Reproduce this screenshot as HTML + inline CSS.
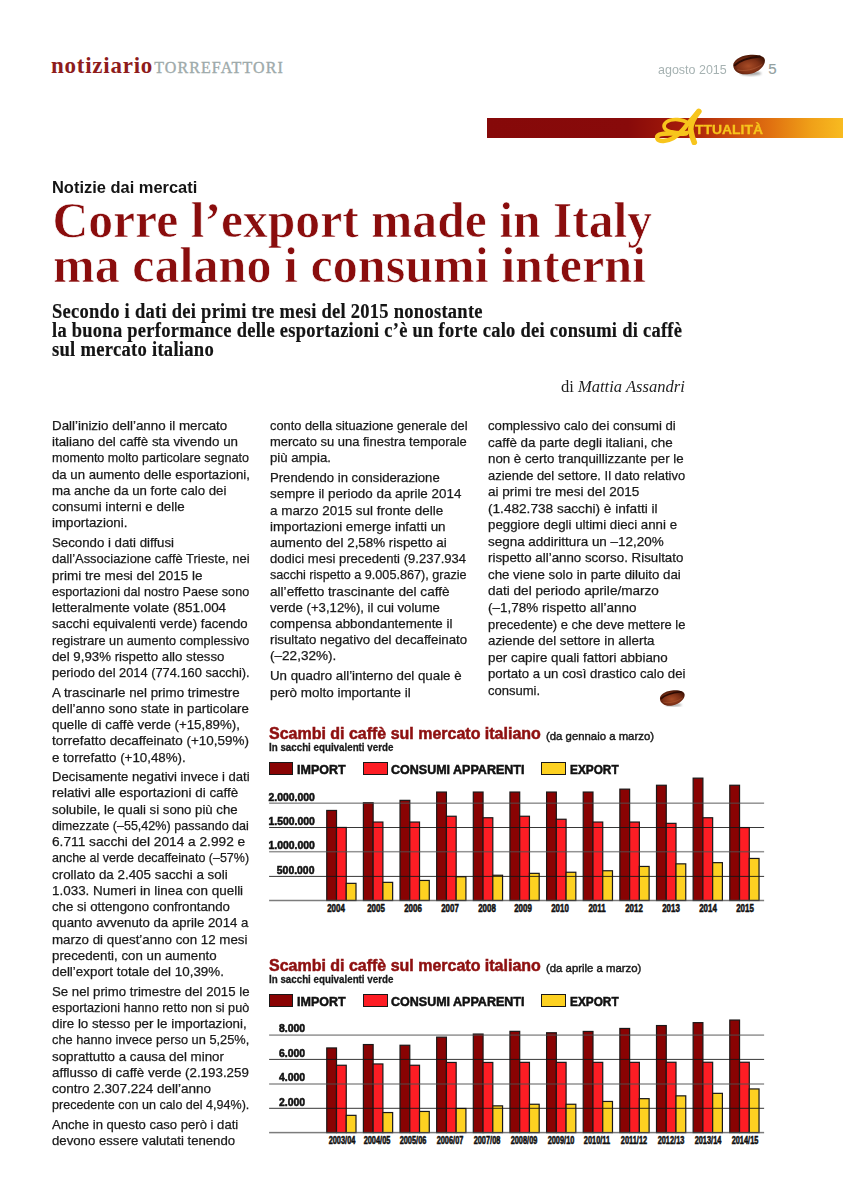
<!DOCTYPE html>
<html><head><meta charset="utf-8"><title>notiziario torrefattori</title>
<style>
html,body{margin:0;padding:0;background:#fff;}
#pg{position:relative;width:855px;height:1200px;overflow:hidden;background:#fff;}
.t{position:absolute;white-space:nowrap;line-height:1;}
.r{position:absolute;box-sizing:border-box;}
svg{position:absolute;}
</style></head><body><div id="pg">
<div class="t" style="left:51.00px;top:54.24px;font-size:23.00px;font-family:'Liberation Serif', serif;font-weight:bold;color:#8e1c1c;letter-spacing:0.75px;">notiziario</div>
<div class="t" style="left:154.20px;top:60.20px;font-size:16.00px;font-family:'Liberation Serif', serif;font-weight:normal;color:#9eaaaa;letter-spacing:1.1px;-webkit-text-stroke:0.35px #9eaaaa;">TORREFATTORI</div>
<div class="t" style="left:657.50px;top:63.09px;font-size:13.00px;font-family:'Liberation Sans', sans-serif;font-weight:normal;color:#a6b2b2;transform:scaleX(0.9600);transform-origin:0 0;">agosto 2015</div>
<div class="t" style="left:768.30px;top:61.20px;font-size:15.00px;font-family:'Liberation Sans', sans-serif;font-weight:normal;color:#93a0a0;-webkit-text-stroke:0.2px #93a0a0;">5</div>
<svg style="left:731.50px;top:52.80px" width="34.40" height="23.75" viewBox="140 95 420 290">
<defs><radialGradient id="gb1" cx="48%" cy="58%" r="58%"><stop offset="0" stop-color="#a84c26"/><stop offset="0.6" stop-color="#7e3016"/><stop offset="1" stop-color="#461606"/></radialGradient>
<filter id="fb1" x="-50%" y="-100%" width="200%" height="300%"><feGaussianBlur stdDeviation="14"/></filter></defs>
<ellipse cx="370" cy="345" rx="130" ry="24" fill="#555" opacity="0.55" filter="url(#fb1)"/>
<path d="M155 250 C 150 190, 230 130, 340 118 C 450 106, 540 128, 542 185 C 545 250, 470 330, 350 352 C 240 370, 160 322, 155 250 Z" fill="url(#gb1)"/>
<path d="M175 245 C 230 190, 320 155, 480 138" stroke="#2e0c04" stroke-width="26" fill="none" stroke-linecap="round"/>
<path d="M205 300 C 280 322, 420 302, 510 232" stroke="#d07848" stroke-width="12" fill="none" opacity="0.35"/>
</svg>
<div class="r" style="left:487px;top:118px;width:356px;height:20px;background:linear-gradient(90deg,#860909 0%,#880a0a 39.6%,#a81e0a 57%,#c8480c 68%,#e07010 79.5%,#f0a018 91%,#f8bb20 100%);"></div>
<svg style="left:652px;top:108px" width="52" height="37" viewBox="0 0 855 608">
<g fill="none" stroke="#f7c51c" stroke-linecap="round" stroke-linejoin="round">
<path d="M590 250 C 520 185, 330 165, 240 228 C 168 280, 190 362, 300 387 C 400 407, 500 412, 580 402" stroke-width="60"/>
<path d="M560 418 C 420 432, 230 402, 120 437 C 55 462, 75 548, 190 542 C 320 532, 430 452, 520 342 C 600 245, 700 120, 770 55" stroke-width="74"/>
<path d="M770 55 C 700 140, 622 250, 640 380 C 655 460, 680 530, 695 565" stroke-width="92"/>
</g></svg>
<div class="t" style="left:695.00px;top:122.87px;font-size:13.50px;font-family:'Liberation Sans', sans-serif;font-weight:bold;color:#f7c51c;transform:scaleX(1.0300);transform-origin:0 0;-webkit-text-stroke:0.3px #f7c51c;">TTUALITÀ</div>
<div class="t" style="left:52.00px;top:179.21px;font-size:16.40px;font-family:'Liberation Sans', sans-serif;font-weight:bold;color:#141414;transform:scaleX(1.0030);transform-origin:0 0;">Notizie dai mercati</div>
<div class="t" style="left:52.50px;top:196.26px;font-size:49.60px;font-family:'Liberation Serif', serif;font-weight:bold;color:#8a0d0d;-webkit-text-stroke:0.7px #fff;">Corre l’export made in Italy</div>
<div class="t" style="left:52.50px;top:240.86px;font-size:49.60px;font-family:'Liberation Serif', serif;font-weight:bold;color:#8a0d0d;transform:scaleX(1.0103);transform-origin:0 0;-webkit-text-stroke:0.7px #fff;">ma calano i consumi interni</div>
<div class="t" style="left:52.20px;top:300.50px;font-size:20.30px;font-family:'Liberation Serif', serif;font-weight:bold;color:#141414;transform:scaleX(0.9120);transform-origin:0 0;letter-spacing:0.3px;-webkit-text-stroke:0.2px #141414;">Secondo i dati dei primi tre mesi del 2015 nonostante</div>
<div class="t" style="left:52.20px;top:319.60px;font-size:20.30px;font-family:'Liberation Serif', serif;font-weight:bold;color:#141414;transform:scaleX(0.9100);transform-origin:0 0;letter-spacing:0.3px;-webkit-text-stroke:0.2px #141414;">la buona performance delle esportazioni c’è un forte calo dei consumi di caffè</div>
<div class="t" style="left:52.20px;top:338.90px;font-size:20.30px;font-family:'Liberation Serif', serif;font-weight:bold;color:#141414;transform:scaleX(0.9160);transform-origin:0 0;letter-spacing:0.3px;-webkit-text-stroke:0.2px #141414;">sul mercato italiano</div>
<div class="t" style="right:169.80px;top:379.30px;font-size:16.00px;font-family:'Liberation Serif', serif;font-weight:normal;color:#1e1e1e;transform:scaleX(1.0340);transform-origin:100% 0;">di <i>Mattia Assandri</i></div>
<div class="t" style="left:52.30px;top:418.99px;font-size:13.00px;font-family:'Liberation Sans', sans-serif;font-weight:normal;color:#1a1a1a;transform:scaleX(1.0277);transform-origin:0 0;-webkit-text-stroke:0.25px #1a1a1a;">Dall’inizio dell’anno il mercato</div>
<div class="t" style="left:52.30px;top:435.24px;font-size:13.00px;font-family:'Liberation Sans', sans-serif;font-weight:normal;color:#1a1a1a;transform:scaleX(1.0266);transform-origin:0 0;-webkit-text-stroke:0.25px #1a1a1a;">italiano del caffè sta vivendo un</div>
<div class="t" style="left:52.30px;top:451.49px;font-size:13.00px;font-family:'Liberation Sans', sans-serif;font-weight:normal;color:#1a1a1a;transform:scaleX(0.9661);transform-origin:0 0;-webkit-text-stroke:0.25px #1a1a1a;">momento molto particolare segnato</div>
<div class="t" style="left:52.30px;top:467.74px;font-size:13.00px;font-family:'Liberation Sans', sans-serif;font-weight:normal;color:#1a1a1a;transform:scaleX(1.0145);transform-origin:0 0;-webkit-text-stroke:0.25px #1a1a1a;">da un aumento delle esportazioni,</div>
<div class="t" style="left:52.30px;top:483.99px;font-size:13.00px;font-family:'Liberation Sans', sans-serif;font-weight:normal;color:#1a1a1a;transform:scaleX(1.0182);transform-origin:0 0;-webkit-text-stroke:0.25px #1a1a1a;">ma anche da un forte calo dei</div>
<div class="t" style="left:52.30px;top:500.24px;font-size:13.00px;font-family:'Liberation Sans', sans-serif;font-weight:normal;color:#1a1a1a;transform:scaleX(1.0249);transform-origin:0 0;-webkit-text-stroke:0.25px #1a1a1a;">consumi interni e delle</div>
<div class="t" style="left:52.30px;top:516.49px;font-size:13.00px;font-family:'Liberation Sans', sans-serif;font-weight:normal;color:#1a1a1a;transform:scaleX(1.0234);transform-origin:0 0;-webkit-text-stroke:0.25px #1a1a1a;">importazioni.</div>
<div class="t" style="left:52.30px;top:536.04px;font-size:13.00px;font-family:'Liberation Sans', sans-serif;font-weight:normal;color:#1a1a1a;transform:scaleX(1.0192);transform-origin:0 0;-webkit-text-stroke:0.25px #1a1a1a;">Secondo i dati diffusi</div>
<div class="t" style="left:52.30px;top:552.29px;font-size:13.00px;font-family:'Liberation Sans', sans-serif;font-weight:normal;color:#1a1a1a;transform:scaleX(0.9954);transform-origin:0 0;-webkit-text-stroke:0.25px #1a1a1a;">dall’Associazione caffè Trieste, nei</div>
<div class="t" style="left:52.30px;top:568.54px;font-size:13.00px;font-family:'Liberation Sans', sans-serif;font-weight:normal;color:#1a1a1a;transform:scaleX(1.0366);transform-origin:0 0;-webkit-text-stroke:0.25px #1a1a1a;">primi tre mesi del 2015 le</div>
<div class="t" style="left:52.30px;top:584.79px;font-size:13.00px;font-family:'Liberation Sans', sans-serif;font-weight:normal;color:#1a1a1a;transform:scaleX(0.9709);transform-origin:0 0;-webkit-text-stroke:0.25px #1a1a1a;">esportazioni dal nostro Paese sono</div>
<div class="t" style="left:52.30px;top:601.04px;font-size:13.00px;font-family:'Liberation Sans', sans-serif;font-weight:normal;color:#1a1a1a;transform:scaleX(1.0338);transform-origin:0 0;-webkit-text-stroke:0.25px #1a1a1a;">letteralmente volate (851.004</div>
<div class="t" style="left:52.30px;top:617.29px;font-size:13.00px;font-family:'Liberation Sans', sans-serif;font-weight:normal;color:#1a1a1a;transform:scaleX(1.0140);transform-origin:0 0;-webkit-text-stroke:0.25px #1a1a1a;">sacchi equivalenti verde) facendo</div>
<div class="t" style="left:52.30px;top:633.54px;font-size:13.00px;font-family:'Liberation Sans', sans-serif;font-weight:normal;color:#1a1a1a;transform:scaleX(0.9757);transform-origin:0 0;-webkit-text-stroke:0.25px #1a1a1a;">registrare un aumento complessivo</div>
<div class="t" style="left:52.30px;top:649.79px;font-size:13.00px;font-family:'Liberation Sans', sans-serif;font-weight:normal;color:#1a1a1a;transform:scaleX(1.0196);transform-origin:0 0;-webkit-text-stroke:0.25px #1a1a1a;">del 9,93% rispetto allo stesso</div>
<div class="t" style="left:52.30px;top:666.04px;font-size:13.00px;font-family:'Liberation Sans', sans-serif;font-weight:normal;color:#1a1a1a;transform:scaleX(0.9870);transform-origin:0 0;-webkit-text-stroke:0.25px #1a1a1a;">periodo del 2014 (774.160 sacchi).</div>
<div class="t" style="left:52.30px;top:685.59px;font-size:13.00px;font-family:'Liberation Sans', sans-serif;font-weight:normal;color:#1a1a1a;transform:scaleX(1.0268);transform-origin:0 0;-webkit-text-stroke:0.25px #1a1a1a;">A trascinarle nel primo trimestre</div>
<div class="t" style="left:52.30px;top:701.84px;font-size:13.00px;font-family:'Liberation Sans', sans-serif;font-weight:normal;color:#1a1a1a;transform:scaleX(1.0160);transform-origin:0 0;-webkit-text-stroke:0.25px #1a1a1a;">dell’anno sono state in particolare</div>
<div class="t" style="left:52.30px;top:718.09px;font-size:13.00px;font-family:'Liberation Sans', sans-serif;font-weight:normal;color:#1a1a1a;transform:scaleX(1.0230);transform-origin:0 0;-webkit-text-stroke:0.25px #1a1a1a;">quelle di caffè verde (+15,89%),</div>
<div class="t" style="left:52.30px;top:734.34px;font-size:13.00px;font-family:'Liberation Sans', sans-serif;font-weight:normal;color:#1a1a1a;transform:scaleX(1.0358);transform-origin:0 0;-webkit-text-stroke:0.25px #1a1a1a;">torrefatto decaffeinato (+10,59%)</div>
<div class="t" style="left:52.30px;top:750.59px;font-size:13.00px;font-family:'Liberation Sans', sans-serif;font-weight:normal;color:#1a1a1a;transform:scaleX(1.0254);transform-origin:0 0;-webkit-text-stroke:0.25px #1a1a1a;">e torrefatto (+10,48%).</div>
<div class="t" style="left:52.30px;top:770.14px;font-size:13.00px;font-family:'Liberation Sans', sans-serif;font-weight:normal;color:#1a1a1a;transform:scaleX(1.0056);transform-origin:0 0;-webkit-text-stroke:0.25px #1a1a1a;">Decisamente negativi invece i dati</div>
<div class="t" style="left:52.30px;top:786.39px;font-size:13.00px;font-family:'Liberation Sans', sans-serif;font-weight:normal;color:#1a1a1a;transform:scaleX(1.0323);transform-origin:0 0;-webkit-text-stroke:0.25px #1a1a1a;">relativi alle esportazioni di caffè</div>
<div class="t" style="left:52.30px;top:802.64px;font-size:13.00px;font-family:'Liberation Sans', sans-serif;font-weight:normal;color:#1a1a1a;transform:scaleX(1.0153);transform-origin:0 0;-webkit-text-stroke:0.25px #1a1a1a;">solubile, le quali si sono più che</div>
<div class="t" style="left:52.30px;top:818.89px;font-size:13.00px;font-family:'Liberation Sans', sans-serif;font-weight:normal;color:#1a1a1a;transform:scaleX(0.9661);transform-origin:0 0;-webkit-text-stroke:0.25px #1a1a1a;">dimezzate (–55,42%) passando dai</div>
<div class="t" style="left:52.30px;top:835.14px;font-size:13.00px;font-family:'Liberation Sans', sans-serif;font-weight:normal;color:#1a1a1a;transform:scaleX(1.0536);transform-origin:0 0;-webkit-text-stroke:0.25px #1a1a1a;">6.711 sacchi del 2014 a 2.992 e</div>
<div class="t" style="left:52.30px;top:851.39px;font-size:13.00px;font-family:'Liberation Sans', sans-serif;font-weight:normal;color:#1a1a1a;transform:scaleX(0.9614);transform-origin:0 0;-webkit-text-stroke:0.25px #1a1a1a;">anche al verde decaffeinato (–57%)</div>
<div class="t" style="left:52.30px;top:867.64px;font-size:13.00px;font-family:'Liberation Sans', sans-serif;font-weight:normal;color:#1a1a1a;transform:scaleX(1.0301);transform-origin:0 0;-webkit-text-stroke:0.25px #1a1a1a;">crollato da 2.405 sacchi a soli</div>
<div class="t" style="left:52.30px;top:883.89px;font-size:13.00px;font-family:'Liberation Sans', sans-serif;font-weight:normal;color:#1a1a1a;transform:scaleX(1.0330);transform-origin:0 0;-webkit-text-stroke:0.25px #1a1a1a;">1.033. Numeri in linea con quelli</div>
<div class="t" style="left:52.30px;top:900.14px;font-size:13.00px;font-family:'Liberation Sans', sans-serif;font-weight:normal;color:#1a1a1a;transform:scaleX(1.0172);transform-origin:0 0;-webkit-text-stroke:0.25px #1a1a1a;">che si ottengono confrontando</div>
<div class="t" style="left:52.30px;top:916.39px;font-size:13.00px;font-family:'Liberation Sans', sans-serif;font-weight:normal;color:#1a1a1a;transform:scaleX(1.0176);transform-origin:0 0;-webkit-text-stroke:0.25px #1a1a1a;">quanto avvenuto da aprile 2014 a</div>
<div class="t" style="left:52.30px;top:932.64px;font-size:13.00px;font-family:'Liberation Sans', sans-serif;font-weight:normal;color:#1a1a1a;transform:scaleX(1.0246);transform-origin:0 0;-webkit-text-stroke:0.25px #1a1a1a;">marzo di quest’anno con 12 mesi</div>
<div class="t" style="left:52.30px;top:948.89px;font-size:13.00px;font-family:'Liberation Sans', sans-serif;font-weight:normal;color:#1a1a1a;transform:scaleX(1.0218);transform-origin:0 0;-webkit-text-stroke:0.25px #1a1a1a;">precedenti, con un aumento</div>
<div class="t" style="left:52.30px;top:965.14px;font-size:13.00px;font-family:'Liberation Sans', sans-serif;font-weight:normal;color:#1a1a1a;transform:scaleX(1.0296);transform-origin:0 0;-webkit-text-stroke:0.25px #1a1a1a;">dell’export totale del 10,39%.</div>
<div class="t" style="left:52.30px;top:984.69px;font-size:13.00px;font-family:'Liberation Sans', sans-serif;font-weight:normal;color:#1a1a1a;transform:scaleX(1.0160);transform-origin:0 0;-webkit-text-stroke:0.25px #1a1a1a;">Se nel primo trimestre del 2015 le</div>
<div class="t" style="left:52.30px;top:1000.94px;font-size:13.00px;font-family:'Liberation Sans', sans-serif;font-weight:normal;color:#1a1a1a;transform:scaleX(0.9709);transform-origin:0 0;-webkit-text-stroke:0.25px #1a1a1a;">esportazioni hanno retto non si può</div>
<div class="t" style="left:52.30px;top:1017.19px;font-size:13.00px;font-family:'Liberation Sans', sans-serif;font-weight:normal;color:#1a1a1a;transform:scaleX(1.0244);transform-origin:0 0;-webkit-text-stroke:0.25px #1a1a1a;">dire lo stesso per le importazioni,</div>
<div class="t" style="left:52.30px;top:1033.44px;font-size:13.00px;font-family:'Liberation Sans', sans-serif;font-weight:normal;color:#1a1a1a;transform:scaleX(0.9855);transform-origin:0 0;-webkit-text-stroke:0.25px #1a1a1a;">che hanno invece perso un 5,25%,</div>
<div class="t" style="left:52.30px;top:1049.69px;font-size:13.00px;font-family:'Liberation Sans', sans-serif;font-weight:normal;color:#1a1a1a;transform:scaleX(1.0256);transform-origin:0 0;-webkit-text-stroke:0.25px #1a1a1a;">soprattutto a causa del minor</div>
<div class="t" style="left:52.30px;top:1065.94px;font-size:13.00px;font-family:'Liberation Sans', sans-serif;font-weight:normal;color:#1a1a1a;transform:scaleX(1.0266);transform-origin:0 0;-webkit-text-stroke:0.25px #1a1a1a;">afflusso di caffè verde (2.193.259</div>
<div class="t" style="left:52.30px;top:1082.19px;font-size:13.00px;font-family:'Liberation Sans', sans-serif;font-weight:normal;color:#1a1a1a;transform:scaleX(1.0380);transform-origin:0 0;-webkit-text-stroke:0.25px #1a1a1a;">contro 2.307.224 dell’anno</div>
<div class="t" style="left:52.30px;top:1098.44px;font-size:13.00px;font-family:'Liberation Sans', sans-serif;font-weight:normal;color:#1a1a1a;transform:scaleX(0.9647);transform-origin:0 0;-webkit-text-stroke:0.25px #1a1a1a;">precedente con un calo del 4,94%).</div>
<div class="t" style="left:52.30px;top:1117.99px;font-size:13.00px;font-family:'Liberation Sans', sans-serif;font-weight:normal;color:#1a1a1a;transform:scaleX(1.0065);transform-origin:0 0;-webkit-text-stroke:0.25px #1a1a1a;">Anche in questo caso però i dati</div>
<div class="t" style="left:52.30px;top:1134.24px;font-size:13.00px;font-family:'Liberation Sans', sans-serif;font-weight:normal;color:#1a1a1a;transform:scaleX(1.0133);transform-origin:0 0;-webkit-text-stroke:0.25px #1a1a1a;">devono essere valutati tenendo</div>
<div class="t" style="left:269.60px;top:418.99px;font-size:13.00px;font-family:'Liberation Sans', sans-serif;font-weight:normal;color:#1a1a1a;transform:scaleX(0.9865);transform-origin:0 0;-webkit-text-stroke:0.25px #1a1a1a;">conto della situazione generale del</div>
<div class="t" style="left:269.60px;top:435.19px;font-size:13.00px;font-family:'Liberation Sans', sans-serif;font-weight:normal;color:#1a1a1a;transform:scaleX(0.9975);transform-origin:0 0;-webkit-text-stroke:0.25px #1a1a1a;">mercato su una finestra temporale</div>
<div class="t" style="left:269.60px;top:451.39px;font-size:13.00px;font-family:'Liberation Sans', sans-serif;font-weight:normal;color:#1a1a1a;transform:scaleX(1.0152);transform-origin:0 0;-webkit-text-stroke:0.25px #1a1a1a;">più ampia.</div>
<div class="t" style="left:269.60px;top:471.29px;font-size:13.00px;font-family:'Liberation Sans', sans-serif;font-weight:normal;color:#1a1a1a;transform:scaleX(1.0077);transform-origin:0 0;-webkit-text-stroke:0.25px #1a1a1a;">Prendendo in considerazione</div>
<div class="t" style="left:269.60px;top:487.49px;font-size:13.00px;font-family:'Liberation Sans', sans-serif;font-weight:normal;color:#1a1a1a;transform:scaleX(1.0302);transform-origin:0 0;-webkit-text-stroke:0.25px #1a1a1a;">sempre il periodo da aprile 2014</div>
<div class="t" style="left:269.60px;top:503.69px;font-size:13.00px;font-family:'Liberation Sans', sans-serif;font-weight:normal;color:#1a1a1a;transform:scaleX(1.0329);transform-origin:0 0;-webkit-text-stroke:0.25px #1a1a1a;">a marzo 2015 sul fronte delle</div>
<div class="t" style="left:269.60px;top:519.89px;font-size:13.00px;font-family:'Liberation Sans', sans-serif;font-weight:normal;color:#1a1a1a;transform:scaleX(1.0293);transform-origin:0 0;-webkit-text-stroke:0.25px #1a1a1a;">importazioni emerge infatti un</div>
<div class="t" style="left:269.60px;top:536.09px;font-size:13.00px;font-family:'Liberation Sans', sans-serif;font-weight:normal;color:#1a1a1a;transform:scaleX(1.0274);transform-origin:0 0;-webkit-text-stroke:0.25px #1a1a1a;">aumento del 2,58% rispetto ai</div>
<div class="t" style="left:269.60px;top:552.29px;font-size:13.00px;font-family:'Liberation Sans', sans-serif;font-weight:normal;color:#1a1a1a;transform:scaleX(1.0051);transform-origin:0 0;-webkit-text-stroke:0.25px #1a1a1a;">dodici mesi precedenti (9.237.934</div>
<div class="t" style="left:269.60px;top:568.49px;font-size:13.00px;font-family:'Liberation Sans', sans-serif;font-weight:normal;color:#1a1a1a;transform:scaleX(0.9718);transform-origin:0 0;-webkit-text-stroke:0.25px #1a1a1a;">sacchi rispetto a 9.005.867), grazie</div>
<div class="t" style="left:269.60px;top:584.69px;font-size:13.00px;font-family:'Liberation Sans', sans-serif;font-weight:normal;color:#1a1a1a;transform:scaleX(1.0473);transform-origin:0 0;-webkit-text-stroke:0.25px #1a1a1a;">all’effetto trascinante del caffè</div>
<div class="t" style="left:269.60px;top:600.89px;font-size:13.00px;font-family:'Liberation Sans', sans-serif;font-weight:normal;color:#1a1a1a;transform:scaleX(1.0114);transform-origin:0 0;-webkit-text-stroke:0.25px #1a1a1a;">verde (+3,12%), il cui volume</div>
<div class="t" style="left:269.60px;top:617.09px;font-size:13.00px;font-family:'Liberation Sans', sans-serif;font-weight:normal;color:#1a1a1a;transform:scaleX(1.0259);transform-origin:0 0;-webkit-text-stroke:0.25px #1a1a1a;">compensa abbondantemente il</div>
<div class="t" style="left:269.60px;top:633.29px;font-size:13.00px;font-family:'Liberation Sans', sans-serif;font-weight:normal;color:#1a1a1a;transform:scaleX(1.0191);transform-origin:0 0;-webkit-text-stroke:0.25px #1a1a1a;">risultato negativo del decaffeinato</div>
<div class="t" style="left:269.60px;top:649.49px;font-size:13.00px;font-family:'Liberation Sans', sans-serif;font-weight:normal;color:#1a1a1a;transform:scaleX(1.0433);transform-origin:0 0;-webkit-text-stroke:0.25px #1a1a1a;">(–22,32%).</div>
<div class="t" style="left:269.60px;top:669.39px;font-size:13.00px;font-family:'Liberation Sans', sans-serif;font-weight:normal;color:#1a1a1a;transform:scaleX(1.0236);transform-origin:0 0;-webkit-text-stroke:0.25px #1a1a1a;">Un quadro all’interno del quale è</div>
<div class="t" style="left:269.60px;top:685.59px;font-size:13.00px;font-family:'Liberation Sans', sans-serif;font-weight:normal;color:#1a1a1a;transform:scaleX(1.0362);transform-origin:0 0;-webkit-text-stroke:0.25px #1a1a1a;">però molto importante il</div>
<div class="t" style="left:487.60px;top:418.99px;font-size:13.00px;font-family:'Liberation Sans', sans-serif;font-weight:normal;color:#1a1a1a;transform:scaleX(1.0113);transform-origin:0 0;-webkit-text-stroke:0.25px #1a1a1a;">complessivo calo dei consumi di</div>
<div class="t" style="left:487.60px;top:435.54px;font-size:13.00px;font-family:'Liberation Sans', sans-serif;font-weight:normal;color:#1a1a1a;transform:scaleX(1.0320);transform-origin:0 0;-webkit-text-stroke:0.25px #1a1a1a;">caffè da parte degli italiani, che</div>
<div class="t" style="left:487.60px;top:452.09px;font-size:13.00px;font-family:'Liberation Sans', sans-serif;font-weight:normal;color:#1a1a1a;transform:scaleX(1.0214);transform-origin:0 0;-webkit-text-stroke:0.25px #1a1a1a;">non è certo tranquillizzante per le</div>
<div class="t" style="left:487.60px;top:468.64px;font-size:13.00px;font-family:'Liberation Sans', sans-serif;font-weight:normal;color:#1a1a1a;transform:scaleX(0.9954);transform-origin:0 0;-webkit-text-stroke:0.25px #1a1a1a;">aziende del settore. Il dato relativo</div>
<div class="t" style="left:487.60px;top:485.19px;font-size:13.00px;font-family:'Liberation Sans', sans-serif;font-weight:normal;color:#1a1a1a;transform:scaleX(1.0416);transform-origin:0 0;-webkit-text-stroke:0.25px #1a1a1a;">ai primi tre mesi del 2015</div>
<div class="t" style="left:487.60px;top:501.74px;font-size:13.00px;font-family:'Liberation Sans', sans-serif;font-weight:normal;color:#1a1a1a;transform:scaleX(1.0477);transform-origin:0 0;-webkit-text-stroke:0.25px #1a1a1a;">(1.482.738 sacchi) è infatti il</div>
<div class="t" style="left:487.60px;top:518.29px;font-size:13.00px;font-family:'Liberation Sans', sans-serif;font-weight:normal;color:#1a1a1a;transform:scaleX(1.0217);transform-origin:0 0;-webkit-text-stroke:0.25px #1a1a1a;">peggiore degli ultimi dieci anni e</div>
<div class="t" style="left:487.60px;top:534.84px;font-size:13.00px;font-family:'Liberation Sans', sans-serif;font-weight:normal;color:#1a1a1a;transform:scaleX(1.0342);transform-origin:0 0;-webkit-text-stroke:0.25px #1a1a1a;">segna addirittura un –12,20%</div>
<div class="t" style="left:487.60px;top:551.39px;font-size:13.00px;font-family:'Liberation Sans', sans-serif;font-weight:normal;color:#1a1a1a;transform:scaleX(1.0242);transform-origin:0 0;-webkit-text-stroke:0.25px #1a1a1a;">rispetto all’anno scorso. Risultato</div>
<div class="t" style="left:487.60px;top:567.94px;font-size:13.00px;font-family:'Liberation Sans', sans-serif;font-weight:normal;color:#1a1a1a;transform:scaleX(1.0223);transform-origin:0 0;-webkit-text-stroke:0.25px #1a1a1a;">che viene solo in parte diluito dai</div>
<div class="t" style="left:487.60px;top:584.49px;font-size:13.00px;font-family:'Liberation Sans', sans-serif;font-weight:normal;color:#1a1a1a;transform:scaleX(1.0410);transform-origin:0 0;-webkit-text-stroke:0.25px #1a1a1a;">dati del periodo aprile/marzo</div>
<div class="t" style="left:487.60px;top:601.04px;font-size:13.00px;font-family:'Liberation Sans', sans-serif;font-weight:normal;color:#1a1a1a;transform:scaleX(1.0372);transform-origin:0 0;-webkit-text-stroke:0.25px #1a1a1a;">(–1,78% rispetto all’anno</div>
<div class="t" style="left:487.60px;top:617.59px;font-size:13.00px;font-family:'Liberation Sans', sans-serif;font-weight:normal;color:#1a1a1a;transform:scaleX(0.9970);transform-origin:0 0;-webkit-text-stroke:0.25px #1a1a1a;">precedente) e che deve mettere le</div>
<div class="t" style="left:487.60px;top:634.14px;font-size:13.00px;font-family:'Liberation Sans', sans-serif;font-weight:normal;color:#1a1a1a;transform:scaleX(1.0240);transform-origin:0 0;-webkit-text-stroke:0.25px #1a1a1a;">aziende del settore in allerta</div>
<div class="t" style="left:487.60px;top:650.69px;font-size:13.00px;font-family:'Liberation Sans', sans-serif;font-weight:normal;color:#1a1a1a;transform:scaleX(1.0275);transform-origin:0 0;-webkit-text-stroke:0.25px #1a1a1a;">per capire quali fattori abbiano</div>
<div class="t" style="left:487.60px;top:667.24px;font-size:13.00px;font-family:'Liberation Sans', sans-serif;font-weight:normal;color:#1a1a1a;transform:scaleX(1.0155);transform-origin:0 0;-webkit-text-stroke:0.25px #1a1a1a;">portato a un così drastico calo dei</div>
<div class="t" style="left:487.60px;top:683.79px;font-size:13.00px;font-family:'Liberation Sans', sans-serif;font-weight:normal;color:#1a1a1a;transform:scaleX(1.0019);transform-origin:0 0;-webkit-text-stroke:0.25px #1a1a1a;">consumi.</div>
<svg style="left:658.90px;top:688.80px" width="26.83" height="18.53" viewBox="140 95 420 290">
<defs><radialGradient id="gb2" cx="48%" cy="58%" r="58%"><stop offset="0" stop-color="#a84c26"/><stop offset="0.6" stop-color="#7e3016"/><stop offset="1" stop-color="#461606"/></radialGradient>
<filter id="fb2" x="-50%" y="-100%" width="200%" height="300%"><feGaussianBlur stdDeviation="14"/></filter></defs>
<ellipse cx="370" cy="345" rx="130" ry="24" fill="#555" opacity="0.55" filter="url(#fb2)"/>
<path d="M155 250 C 150 190, 230 130, 340 118 C 450 106, 540 128, 542 185 C 545 250, 470 330, 350 352 C 240 370, 160 322, 155 250 Z" fill="url(#gb2)"/>
<path d="M175 245 C 230 190, 320 155, 480 138" stroke="#2e0c04" stroke-width="26" fill="none" stroke-linecap="round"/>
<path d="M205 300 C 280 322, 420 302, 510 232" stroke="#d07848" stroke-width="12" fill="none" opacity="0.35"/>
</svg>
<div class="t" style="left:269.10px;top:726.49px;font-size:15.60px;font-family:'Liberation Sans', sans-serif;font-weight:bold;color:#8e1010;transform:scaleX(1.0250);transform-origin:0 0;-webkit-text-stroke:0.5px #8e1010;">Scambi di caffè sul mercato italiano</div>
<div class="t" style="left:546.30px;top:729.98px;font-size:11.60px;font-family:'Liberation Sans', sans-serif;font-weight:normal;color:#1a1a1a;transform:scaleX(0.9800);transform-origin:0 0;-webkit-text-stroke:0.45px #1a1a1a;">(da gennaio a marzo)</div>
<div class="t" style="left:269.10px;top:742.16px;font-size:10.80px;font-family:'Liberation Sans', sans-serif;font-weight:bold;color:#1a1a1a;transform:scaleX(0.9050);transform-origin:0 0;-webkit-text-stroke:0.3px #1a1a1a;">In sacchi equivalenti verde</div>
<div class="r" style="left:269.10px;top:762.20px;width:24.00px;height:12.80px;background:#890303;border:1px solid #1a1818;"></div>
<div class="t" style="left:297.20px;top:762.99px;font-size:13.60px;font-family:'Liberation Sans', sans-serif;font-weight:bold;color:#111;transform:scaleX(0.9200);transform-origin:0 0;-webkit-text-stroke:0.55px #111;">IMPORT</div>
<div class="r" style="left:363.20px;top:762.20px;width:24.40px;height:12.80px;background:#fd1d24;border:1px solid #1a1818;"></div>
<div class="t" style="left:391.30px;top:762.99px;font-size:13.60px;font-family:'Liberation Sans', sans-serif;font-weight:bold;color:#111;transform:scaleX(0.9200);transform-origin:0 0;-webkit-text-stroke:0.55px #111;">CONSUMI APPARENTI</div>
<div class="r" style="left:541.40px;top:762.20px;width:24.30px;height:12.80px;background:#fdd121;border:1px solid #1a1818;"></div>
<div class="t" style="left:570.00px;top:762.99px;font-size:13.60px;font-family:'Liberation Sans', sans-serif;font-weight:bold;color:#111;transform:scaleX(0.8700);transform-origin:0 0;-webkit-text-stroke:0.55px #111;">EXPORT</div>
<div class="t" style="right:540.30px;top:791.52px;font-size:11.20px;font-family:'Liberation Sans', sans-serif;font-weight:bold;color:#111;transform:scaleX(0.9300);transform-origin:100% 0;-webkit-text-stroke:0.55px #111;">2.000.000</div>
<div class="t" style="right:540.30px;top:815.82px;font-size:11.20px;font-family:'Liberation Sans', sans-serif;font-weight:bold;color:#111;transform:scaleX(0.9300);transform-origin:100% 0;-webkit-text-stroke:0.55px #111;">1.500.000</div>
<div class="t" style="right:540.30px;top:840.02px;font-size:11.20px;font-family:'Liberation Sans', sans-serif;font-weight:bold;color:#111;transform:scaleX(0.9300);transform-origin:100% 0;-webkit-text-stroke:0.55px #111;">1.000.000</div>
<div class="t" style="right:540.30px;top:864.72px;font-size:11.20px;font-family:'Liberation Sans', sans-serif;font-weight:bold;color:#111;transform:scaleX(0.9300);transform-origin:100% 0;-webkit-text-stroke:0.55px #111;">500.000</div>
<svg style="left:0;top:0" width="855" height="1200" viewBox="0 0 855 1200">
<rect x="326.75" y="810.45" width="9.75" height="90.05" fill="#890303" stroke="#1a1818" stroke-width="1.2"/>
<rect x="336.50" y="827.45" width="9.75" height="73.05" fill="#fd1d24" stroke="#1a1818" stroke-width="1.2"/>
<rect x="346.25" y="883.35" width="9.75" height="17.15" fill="#fdd121" stroke="#1a1818" stroke-width="1.2"/>
<rect x="363.39" y="802.75" width="9.75" height="97.75" fill="#890303" stroke="#1a1818" stroke-width="1.2"/>
<rect x="373.14" y="822.05" width="9.75" height="78.45" fill="#fd1d24" stroke="#1a1818" stroke-width="1.2"/>
<rect x="382.89" y="882.35" width="9.75" height="18.15" fill="#fdd121" stroke="#1a1818" stroke-width="1.2"/>
<rect x="400.03" y="800.35" width="9.75" height="100.15" fill="#890303" stroke="#1a1818" stroke-width="1.2"/>
<rect x="409.78" y="822.05" width="9.75" height="78.45" fill="#fd1d24" stroke="#1a1818" stroke-width="1.2"/>
<rect x="419.53" y="880.45" width="9.75" height="20.05" fill="#fdd121" stroke="#1a1818" stroke-width="1.2"/>
<rect x="436.67" y="792.05" width="9.75" height="108.45" fill="#890303" stroke="#1a1818" stroke-width="1.2"/>
<rect x="446.42" y="816.25" width="9.75" height="84.25" fill="#fd1d24" stroke="#1a1818" stroke-width="1.2"/>
<rect x="456.17" y="876.75" width="9.75" height="23.75" fill="#fdd121" stroke="#1a1818" stroke-width="1.2"/>
<rect x="473.31" y="792.05" width="9.75" height="108.45" fill="#890303" stroke="#1a1818" stroke-width="1.2"/>
<rect x="483.06" y="817.75" width="9.75" height="82.75" fill="#fd1d24" stroke="#1a1818" stroke-width="1.2"/>
<rect x="492.81" y="875.25" width="9.75" height="25.25" fill="#fdd121" stroke="#1a1818" stroke-width="1.2"/>
<rect x="509.95" y="792.05" width="9.75" height="108.45" fill="#890303" stroke="#1a1818" stroke-width="1.2"/>
<rect x="519.70" y="816.25" width="9.75" height="84.25" fill="#fd1d24" stroke="#1a1818" stroke-width="1.2"/>
<rect x="529.45" y="873.35" width="9.75" height="27.15" fill="#fdd121" stroke="#1a1818" stroke-width="1.2"/>
<rect x="546.59" y="792.05" width="9.75" height="108.45" fill="#890303" stroke="#1a1818" stroke-width="1.2"/>
<rect x="556.34" y="819.25" width="9.75" height="81.25" fill="#fd1d24" stroke="#1a1818" stroke-width="1.2"/>
<rect x="566.09" y="872.25" width="9.75" height="28.25" fill="#fdd121" stroke="#1a1818" stroke-width="1.2"/>
<rect x="583.23" y="792.05" width="9.75" height="108.45" fill="#890303" stroke="#1a1818" stroke-width="1.2"/>
<rect x="592.98" y="822.05" width="9.75" height="78.45" fill="#fd1d24" stroke="#1a1818" stroke-width="1.2"/>
<rect x="602.73" y="870.75" width="9.75" height="29.75" fill="#fdd121" stroke="#1a1818" stroke-width="1.2"/>
<rect x="619.87" y="789.15" width="9.75" height="111.35" fill="#890303" stroke="#1a1818" stroke-width="1.2"/>
<rect x="629.62" y="822.05" width="9.75" height="78.45" fill="#fd1d24" stroke="#1a1818" stroke-width="1.2"/>
<rect x="639.37" y="866.45" width="9.75" height="34.05" fill="#fdd121" stroke="#1a1818" stroke-width="1.2"/>
<rect x="656.51" y="785.25" width="9.75" height="115.25" fill="#890303" stroke="#1a1818" stroke-width="1.2"/>
<rect x="666.26" y="823.35" width="9.75" height="77.15" fill="#fd1d24" stroke="#1a1818" stroke-width="1.2"/>
<rect x="676.01" y="863.85" width="9.75" height="36.65" fill="#fdd121" stroke="#1a1818" stroke-width="1.2"/>
<rect x="693.15" y="778.15" width="9.75" height="122.35" fill="#890303" stroke="#1a1818" stroke-width="1.2"/>
<rect x="702.90" y="817.75" width="9.75" height="82.75" fill="#fd1d24" stroke="#1a1818" stroke-width="1.2"/>
<rect x="712.65" y="862.65" width="9.75" height="37.85" fill="#fdd121" stroke="#1a1818" stroke-width="1.2"/>
<rect x="729.79" y="785.25" width="9.75" height="115.25" fill="#890303" stroke="#1a1818" stroke-width="1.2"/>
<rect x="739.54" y="827.55" width="9.75" height="72.95" fill="#fd1d24" stroke="#1a1818" stroke-width="1.2"/>
<rect x="749.29" y="858.45" width="9.75" height="42.05" fill="#fdd121" stroke="#1a1818" stroke-width="1.2"/>
<rect x="269.1" y="802.45" width="495" height="1.5" fill="#505050" fill-opacity="0.62"/>
<rect x="269.1" y="827.00" width="495" height="1.0" fill="#141414" fill-opacity="0.85"/>
<rect x="269.1" y="850.95" width="495" height="1.5" fill="#505050" fill-opacity="0.62"/>
<rect x="269.1" y="875.90" width="495" height="1.0" fill="#141414" fill-opacity="0.85"/>
<rect x="269.1" y="899.75" width="495" height="1.5" fill="#505050" fill-opacity="0.75"/>
</svg>
<div class="t" style="left:336.40px;top:904.29px;font-size:10.40px;font-family:'Liberation Sans', sans-serif;font-weight:bold;color:#111;transform:translateX(-50%) scaleX(0.7600);transform-origin:50% 0;-webkit-text-stroke:0.55px #111;">2004</div>
<div class="t" style="left:376.10px;top:904.29px;font-size:10.40px;font-family:'Liberation Sans', sans-serif;font-weight:bold;color:#111;transform:translateX(-50%) scaleX(0.7600);transform-origin:50% 0;-webkit-text-stroke:0.55px #111;">2005</div>
<div class="t" style="left:412.94px;top:904.29px;font-size:10.40px;font-family:'Liberation Sans', sans-serif;font-weight:bold;color:#111;transform:translateX(-50%) scaleX(0.7600);transform-origin:50% 0;-webkit-text-stroke:0.55px #111;">2006</div>
<div class="t" style="left:449.78px;top:904.29px;font-size:10.40px;font-family:'Liberation Sans', sans-serif;font-weight:bold;color:#111;transform:translateX(-50%) scaleX(0.7600);transform-origin:50% 0;-webkit-text-stroke:0.55px #111;">2007</div>
<div class="t" style="left:486.62px;top:904.29px;font-size:10.40px;font-family:'Liberation Sans', sans-serif;font-weight:bold;color:#111;transform:translateX(-50%) scaleX(0.7600);transform-origin:50% 0;-webkit-text-stroke:0.55px #111;">2008</div>
<div class="t" style="left:523.46px;top:904.29px;font-size:10.40px;font-family:'Liberation Sans', sans-serif;font-weight:bold;color:#111;transform:translateX(-50%) scaleX(0.7600);transform-origin:50% 0;-webkit-text-stroke:0.55px #111;">2009</div>
<div class="t" style="left:560.30px;top:904.29px;font-size:10.40px;font-family:'Liberation Sans', sans-serif;font-weight:bold;color:#111;transform:translateX(-50%) scaleX(0.7600);transform-origin:50% 0;-webkit-text-stroke:0.55px #111;">2010</div>
<div class="t" style="left:597.14px;top:904.29px;font-size:10.40px;font-family:'Liberation Sans', sans-serif;font-weight:bold;color:#111;transform:translateX(-50%) scaleX(0.7600);transform-origin:50% 0;-webkit-text-stroke:0.55px #111;">2011</div>
<div class="t" style="left:633.98px;top:904.29px;font-size:10.40px;font-family:'Liberation Sans', sans-serif;font-weight:bold;color:#111;transform:translateX(-50%) scaleX(0.7600);transform-origin:50% 0;-webkit-text-stroke:0.55px #111;">2012</div>
<div class="t" style="left:670.82px;top:904.29px;font-size:10.40px;font-family:'Liberation Sans', sans-serif;font-weight:bold;color:#111;transform:translateX(-50%) scaleX(0.7600);transform-origin:50% 0;-webkit-text-stroke:0.55px #111;">2013</div>
<div class="t" style="left:707.66px;top:904.29px;font-size:10.40px;font-family:'Liberation Sans', sans-serif;font-weight:bold;color:#111;transform:translateX(-50%) scaleX(0.7600);transform-origin:50% 0;-webkit-text-stroke:0.55px #111;">2014</div>
<div class="t" style="left:744.50px;top:904.29px;font-size:10.40px;font-family:'Liberation Sans', sans-serif;font-weight:bold;color:#111;transform:translateX(-50%) scaleX(0.7600);transform-origin:50% 0;-webkit-text-stroke:0.55px #111;">2015</div>
<div class="t" style="left:269.10px;top:958.29px;font-size:15.60px;font-family:'Liberation Sans', sans-serif;font-weight:bold;color:#8e1010;transform:scaleX(1.0250);transform-origin:0 0;-webkit-text-stroke:0.5px #8e1010;">Scambi di caffè sul mercato italiano</div>
<div class="t" style="left:546.30px;top:961.78px;font-size:11.60px;font-family:'Liberation Sans', sans-serif;font-weight:normal;color:#1a1a1a;transform:scaleX(0.9800);transform-origin:0 0;-webkit-text-stroke:0.45px #1a1a1a;">(da aprile a marzo)</div>
<div class="t" style="left:269.10px;top:973.96px;font-size:10.80px;font-family:'Liberation Sans', sans-serif;font-weight:bold;color:#1a1a1a;transform:scaleX(0.9050);transform-origin:0 0;-webkit-text-stroke:0.3px #1a1a1a;">In sacchi equivalenti verde</div>
<div class="r" style="left:269.10px;top:994.00px;width:24.00px;height:12.80px;background:#890303;border:1px solid #1a1818;"></div>
<div class="t" style="left:297.20px;top:994.79px;font-size:13.60px;font-family:'Liberation Sans', sans-serif;font-weight:bold;color:#111;transform:scaleX(0.9200);transform-origin:0 0;-webkit-text-stroke:0.55px #111;">IMPORT</div>
<div class="r" style="left:363.20px;top:994.00px;width:24.40px;height:12.80px;background:#fd1d24;border:1px solid #1a1818;"></div>
<div class="t" style="left:391.30px;top:994.79px;font-size:13.60px;font-family:'Liberation Sans', sans-serif;font-weight:bold;color:#111;transform:scaleX(0.9200);transform-origin:0 0;-webkit-text-stroke:0.55px #111;">CONSUMI APPARENTI</div>
<div class="r" style="left:541.40px;top:994.00px;width:24.30px;height:12.80px;background:#fdd121;border:1px solid #1a1818;"></div>
<div class="t" style="left:570.00px;top:994.79px;font-size:13.60px;font-family:'Liberation Sans', sans-serif;font-weight:bold;color:#111;transform:scaleX(0.8700);transform-origin:0 0;-webkit-text-stroke:0.55px #111;">EXPORT</div>
<div class="t" style="right:550.00px;top:1023.42px;font-size:11.20px;font-family:'Liberation Sans', sans-serif;font-weight:bold;color:#111;transform:scaleX(0.9300);transform-origin:100% 0;-webkit-text-stroke:0.55px #111;">8.000</div>
<div class="t" style="right:550.00px;top:1047.72px;font-size:11.20px;font-family:'Liberation Sans', sans-serif;font-weight:bold;color:#111;transform:scaleX(0.9300);transform-origin:100% 0;-webkit-text-stroke:0.55px #111;">6.000</div>
<div class="t" style="right:550.00px;top:1072.32px;font-size:11.20px;font-family:'Liberation Sans', sans-serif;font-weight:bold;color:#111;transform:scaleX(0.9300);transform-origin:100% 0;-webkit-text-stroke:0.55px #111;">4.000</div>
<div class="t" style="right:550.00px;top:1096.62px;font-size:11.20px;font-family:'Liberation Sans', sans-serif;font-weight:bold;color:#111;transform:scaleX(0.9300);transform-origin:100% 0;-webkit-text-stroke:0.55px #111;">2.000</div>
<svg style="left:0;top:0" width="855" height="1200" viewBox="0 0 855 1200">
<rect x="326.75" y="1047.95" width="9.75" height="84.65" fill="#890303" stroke="#1a1818" stroke-width="1.2"/>
<rect x="336.50" y="1065.25" width="9.75" height="67.35" fill="#fd1d24" stroke="#1a1818" stroke-width="1.2"/>
<rect x="346.25" y="1115.35" width="9.75" height="17.25" fill="#fdd121" stroke="#1a1818" stroke-width="1.2"/>
<rect x="363.39" y="1044.55" width="9.75" height="88.05" fill="#890303" stroke="#1a1818" stroke-width="1.2"/>
<rect x="373.14" y="1063.95" width="9.75" height="68.65" fill="#fd1d24" stroke="#1a1818" stroke-width="1.2"/>
<rect x="382.89" y="1112.55" width="9.75" height="20.05" fill="#fdd121" stroke="#1a1818" stroke-width="1.2"/>
<rect x="400.03" y="1045.25" width="9.75" height="87.35" fill="#890303" stroke="#1a1818" stroke-width="1.2"/>
<rect x="409.78" y="1065.25" width="9.75" height="67.35" fill="#fd1d24" stroke="#1a1818" stroke-width="1.2"/>
<rect x="419.53" y="1111.45" width="9.75" height="21.15" fill="#fdd121" stroke="#1a1818" stroke-width="1.2"/>
<rect x="436.67" y="1037.15" width="9.75" height="95.45" fill="#890303" stroke="#1a1818" stroke-width="1.2"/>
<rect x="446.42" y="1062.45" width="9.75" height="70.15" fill="#fd1d24" stroke="#1a1818" stroke-width="1.2"/>
<rect x="456.17" y="1108.45" width="9.75" height="24.15" fill="#fdd121" stroke="#1a1818" stroke-width="1.2"/>
<rect x="473.31" y="1034.05" width="9.75" height="98.55" fill="#890303" stroke="#1a1818" stroke-width="1.2"/>
<rect x="483.06" y="1062.45" width="9.75" height="70.15" fill="#fd1d24" stroke="#1a1818" stroke-width="1.2"/>
<rect x="492.81" y="1105.85" width="9.75" height="26.75" fill="#fdd121" stroke="#1a1818" stroke-width="1.2"/>
<rect x="509.95" y="1031.35" width="9.75" height="101.25" fill="#890303" stroke="#1a1818" stroke-width="1.2"/>
<rect x="519.70" y="1062.35" width="9.75" height="70.25" fill="#fd1d24" stroke="#1a1818" stroke-width="1.2"/>
<rect x="529.45" y="1104.25" width="9.75" height="28.35" fill="#fdd121" stroke="#1a1818" stroke-width="1.2"/>
<rect x="546.59" y="1032.75" width="9.75" height="99.85" fill="#890303" stroke="#1a1818" stroke-width="1.2"/>
<rect x="556.34" y="1062.35" width="9.75" height="70.25" fill="#fd1d24" stroke="#1a1818" stroke-width="1.2"/>
<rect x="566.09" y="1104.25" width="9.75" height="28.35" fill="#fdd121" stroke="#1a1818" stroke-width="1.2"/>
<rect x="583.23" y="1031.45" width="9.75" height="101.15" fill="#890303" stroke="#1a1818" stroke-width="1.2"/>
<rect x="592.98" y="1062.35" width="9.75" height="70.25" fill="#fd1d24" stroke="#1a1818" stroke-width="1.2"/>
<rect x="602.73" y="1101.45" width="9.75" height="31.15" fill="#fdd121" stroke="#1a1818" stroke-width="1.2"/>
<rect x="619.87" y="1028.45" width="9.75" height="104.15" fill="#890303" stroke="#1a1818" stroke-width="1.2"/>
<rect x="629.62" y="1062.35" width="9.75" height="70.25" fill="#fd1d24" stroke="#1a1818" stroke-width="1.2"/>
<rect x="639.37" y="1098.65" width="9.75" height="33.95" fill="#fdd121" stroke="#1a1818" stroke-width="1.2"/>
<rect x="656.51" y="1025.55" width="9.75" height="107.05" fill="#890303" stroke="#1a1818" stroke-width="1.2"/>
<rect x="666.26" y="1062.25" width="9.75" height="70.35" fill="#fd1d24" stroke="#1a1818" stroke-width="1.2"/>
<rect x="676.01" y="1095.85" width="9.75" height="36.75" fill="#fdd121" stroke="#1a1818" stroke-width="1.2"/>
<rect x="693.15" y="1022.65" width="9.75" height="109.95" fill="#890303" stroke="#1a1818" stroke-width="1.2"/>
<rect x="702.90" y="1062.25" width="9.75" height="70.35" fill="#fd1d24" stroke="#1a1818" stroke-width="1.2"/>
<rect x="712.65" y="1093.35" width="9.75" height="39.25" fill="#fdd121" stroke="#1a1818" stroke-width="1.2"/>
<rect x="729.79" y="1020.05" width="9.75" height="112.55" fill="#890303" stroke="#1a1818" stroke-width="1.2"/>
<rect x="739.54" y="1062.25" width="9.75" height="70.35" fill="#fd1d24" stroke="#1a1818" stroke-width="1.2"/>
<rect x="749.29" y="1088.95" width="9.75" height="43.65" fill="#fdd121" stroke="#1a1818" stroke-width="1.2"/>
<rect x="269.1" y="1034.35" width="495" height="1.5" fill="#505050" fill-opacity="0.62"/>
<rect x="269.1" y="1058.90" width="495" height="1.0" fill="#141414" fill-opacity="0.85"/>
<rect x="269.1" y="1083.25" width="495" height="1.5" fill="#505050" fill-opacity="0.62"/>
<rect x="269.1" y="1107.80" width="495" height="1.0" fill="#141414" fill-opacity="0.85"/>
<rect x="269.1" y="1131.85" width="495" height="1.5" fill="#505050" fill-opacity="0.75"/>
</svg>
<div class="t" style="left:341.75px;top:1136.39px;font-size:10.40px;font-family:'Liberation Sans', sans-serif;font-weight:bold;color:#111;transform:translateX(-50%) scaleX(0.7100);transform-origin:50% 0;-webkit-text-stroke:0.55px #111;">2003/04</div>
<div class="t" style="left:376.50px;top:1136.39px;font-size:10.40px;font-family:'Liberation Sans', sans-serif;font-weight:bold;color:#111;transform:translateX(-50%) scaleX(0.7100);transform-origin:50% 0;-webkit-text-stroke:0.55px #111;">2004/05</div>
<div class="t" style="left:413.30px;top:1136.39px;font-size:10.40px;font-family:'Liberation Sans', sans-serif;font-weight:bold;color:#111;transform:translateX(-50%) scaleX(0.7100);transform-origin:50% 0;-webkit-text-stroke:0.55px #111;">2005/06</div>
<div class="t" style="left:450.10px;top:1136.39px;font-size:10.40px;font-family:'Liberation Sans', sans-serif;font-weight:bold;color:#111;transform:translateX(-50%) scaleX(0.7100);transform-origin:50% 0;-webkit-text-stroke:0.55px #111;">2006/07</div>
<div class="t" style="left:486.90px;top:1136.39px;font-size:10.40px;font-family:'Liberation Sans', sans-serif;font-weight:bold;color:#111;transform:translateX(-50%) scaleX(0.7100);transform-origin:50% 0;-webkit-text-stroke:0.55px #111;">2007/08</div>
<div class="t" style="left:523.70px;top:1136.39px;font-size:10.40px;font-family:'Liberation Sans', sans-serif;font-weight:bold;color:#111;transform:translateX(-50%) scaleX(0.7100);transform-origin:50% 0;-webkit-text-stroke:0.55px #111;">2008/09</div>
<div class="t" style="left:560.50px;top:1136.39px;font-size:10.40px;font-family:'Liberation Sans', sans-serif;font-weight:bold;color:#111;transform:translateX(-50%) scaleX(0.7100);transform-origin:50% 0;-webkit-text-stroke:0.55px #111;">2009/10</div>
<div class="t" style="left:597.30px;top:1136.39px;font-size:10.40px;font-family:'Liberation Sans', sans-serif;font-weight:bold;color:#111;transform:translateX(-50%) scaleX(0.7100);transform-origin:50% 0;-webkit-text-stroke:0.55px #111;">2010/11</div>
<div class="t" style="left:634.10px;top:1136.39px;font-size:10.40px;font-family:'Liberation Sans', sans-serif;font-weight:bold;color:#111;transform:translateX(-50%) scaleX(0.7100);transform-origin:50% 0;-webkit-text-stroke:0.55px #111;">2011/12</div>
<div class="t" style="left:670.90px;top:1136.39px;font-size:10.40px;font-family:'Liberation Sans', sans-serif;font-weight:bold;color:#111;transform:translateX(-50%) scaleX(0.7100);transform-origin:50% 0;-webkit-text-stroke:0.55px #111;">2012/13</div>
<div class="t" style="left:707.70px;top:1136.39px;font-size:10.40px;font-family:'Liberation Sans', sans-serif;font-weight:bold;color:#111;transform:translateX(-50%) scaleX(0.7100);transform-origin:50% 0;-webkit-text-stroke:0.55px #111;">2013/14</div>
<div class="t" style="left:744.50px;top:1136.39px;font-size:10.40px;font-family:'Liberation Sans', sans-serif;font-weight:bold;color:#111;transform:translateX(-50%) scaleX(0.7100);transform-origin:50% 0;-webkit-text-stroke:0.55px #111;">2014/15</div>
</div></body></html>
